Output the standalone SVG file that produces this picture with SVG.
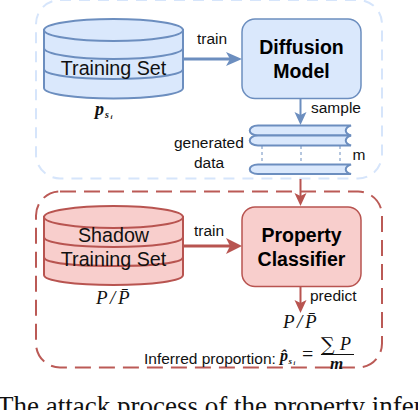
<svg xmlns="http://www.w3.org/2000/svg" width="418" height="410" viewBox="0 0 418 410">
<style>
text{font-family:"Liberation Sans",Arial,sans-serif;fill:#111}
.lbl{font-size:15.500px}
.big{font-size:19.700px;text-anchor:middle}
.title{font-size:19.500px;font-weight:bold;text-anchor:middle;fill:#000}
.m{font-family:"Liberation Serif","Times New Roman",serif;font-style:italic}
.bs{fill:#dae8fc;stroke:#6c8ebf;stroke-width:2}
.rs{fill:#f8cecc;stroke:#b85450;stroke-width:2}
.bx{stroke-width:1.500}
.bl{fill:none;stroke:#6c8ebf;stroke-width:2}
.rl{fill:none;stroke:#b85450;stroke-width:2}
</style>
<rect x="36" y="0" width="346" height="178.500" rx="24" fill="none" stroke="#d6e5fb" stroke-width="2" stroke-dasharray="11 8"/>
<rect x="36" y="191.500" width="346" height="176" rx="24" fill="none" stroke="#bb5a56" stroke-width="2" stroke-dasharray="16 8"/>
<g id="training-set">
<path class="bs" d="M44 30V88C44 94 75 98.500 113.500 98.500S183 94 183 88V30Z"/>
<ellipse class="bs" cx="113.500" cy="30" rx="69.500" ry="11"/>
<path class="bl" d="M44 48C44 54 75 59 113.500 59S183 54 183 48M44 69C44 75 75 79 113.500 79S183 75 183 69"/>
<text class="big" x="113.500" y="74.500">Training Set</text>
<text class="m" x="95" y="115" font-size="18" font-weight="bold">p</text>
<text class="m" x="105" y="118" font-size="10" font-weight="bold">s</text>
<text class="m" x="110.500" y="119" font-size="7" font-weight="bold">i</text>
</g>
<g id="diffusion-model">
<rect class="bs bx" x="242" y="19" width="119" height="79.500" rx="13"/>
<text class="title" x="301.500" y="54">Diffusion</text>
<text class="title" x="301.500" y="78">Model</text>
</g>
<g id="generated-data">
<path class="bs" d="M351 125.500H258C247 125.500 247 135.500 258 135.500H351C344 133 344 128 351 125.500Z"/>
<path class="bs" d="M351 135.500H258C247 135.500 247 145.500 258 145.500H351C344 143 344 138 351 135.500Z"/>
<path class="bs" d="M351 164.500H258C247 164.500 247 174 258 174H351C344 172 344 167 351 164.500Z"/>
<path d="M262 146V164M301 146V164M340 146V164" fill="none" stroke="#6c8ebf" stroke-dasharray="3 3"/>
<text class="lbl" x="174" y="148">generated</text>
<text class="lbl" x="194" y="168">data</text>
<text class="lbl" x="352.500" y="160">m</text>
</g>
<g id="shadow-training-set">
<path class="rs" d="M44 217V275C44 281 75 285 113.500 285S183 281 183 275V217Z"/>
<ellipse class="rs" cx="113.500" cy="217" rx="69.500" ry="11"/>
<path class="rl" d="M44 237C44 243 75 247 113.500 247S183 243 183 237M44 257C44 263 75 266 113.500 266S183 263 183 257"/>
<text class="big" x="113.500" y="242">Shadow</text>
<text class="big" x="113.500" y="266">Training Set</text>
<text class="m" x="96" y="304" font-size="19" letter-spacing="2.500">P/P̄</text>
</g>
<g id="property-classifier">
<rect class="rs bx" x="242" y="207" width="119" height="79.500" rx="13"/>
<text class="title" x="301.500" y="241.500">Property</text>
<text class="title" x="301.500" y="265.500">Classifier</text>
</g>
<g id="connectors">
<path d="M183 59H230" fill="none" stroke="#6c8ebf" stroke-width="3"/>
<path d="M242 59L226 52L230 59L226 66Z" fill="#6c8ebf"/>
<path d="M300.500 98V115" fill="none" stroke="#6c8ebf" stroke-width="2"/>
<path d="M300.500 125L294.500 112L300.500 115L306.500 112Z" fill="#6c8ebf"/>
<path d="M183 246H230" fill="none" stroke="#b85450" stroke-width="3"/>
<path d="M242 246L226 238L230 246L226 254Z" fill="#b85450"/>
<path d="M300.500 179V197" fill="none" stroke="#b85450" stroke-width="2"/>
<path d="M300.500 206L294.500 193L300.500 196L306.500 193Z" fill="#b85450"/>
<path d="M300.500 286V304" fill="none" stroke="#b85450" stroke-width="2"/>
<path d="M300.500 313L294.500 300L300.500 303L306.500 300Z" fill="#b85450"/>
</g>
<text class="lbl" x="197" y="44">train</text>
<text class="lbl" x="194" y="236">train</text>
<text class="lbl" x="311" y="113">sample</text>
<text class="lbl" x="310" y="301">predict</text>
<text class="m" x="283" y="328" font-size="19" letter-spacing="2.500">P/P̄</text>
<text x="144" y="363.500" font-size="15.500">Inferred proportion:</text>
<text class="m" x="280" y="361" font-size="16" font-weight="bold">p̂</text>
<text class="m" x="288.500" y="364" font-size="9" font-weight="bold">s</text>
<text class="m" x="293.500" y="365" font-size="6" font-weight="bold">i</text>
<text x="302" y="361" style="font-family:'Liberation Serif',serif" font-size="20">=</text>
<text x="321" y="351" style="font-family:'DejaVu Serif',serif" font-size="19">∑</text>
<text class="m" x="340" y="350" font-size="18">P</text>
<path d="M321 354.500H354" stroke="#111" fill="none"/>
<text class="m" x="330" y="369" font-size="17" font-weight="bold">m</text>
<text x="-3" y="415" style="font-family:'Liberation Serif',serif" font-size="27">The attack process of the property infer</text>
</svg>
